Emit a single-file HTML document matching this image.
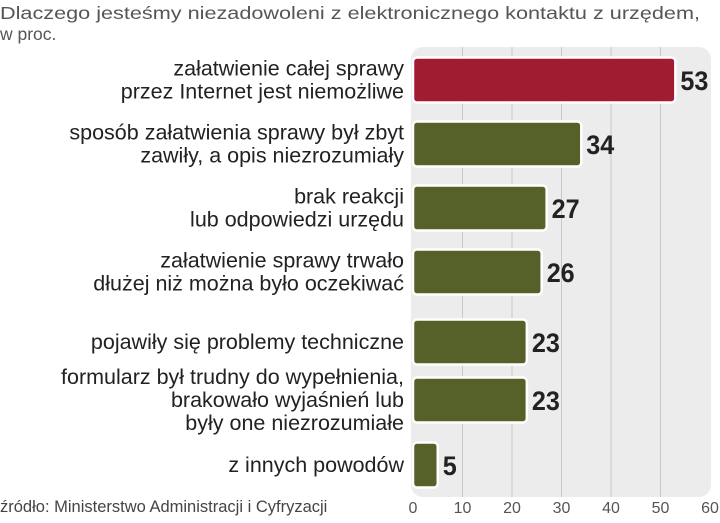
<!DOCTYPE html>
<html><head><meta charset="utf-8"><style>
body{margin:0;width:720px;height:518px;background:#fff;overflow:hidden;font-family:"Liberation Sans",sans-serif}
svg text{font-family:"Liberation Sans",sans-serif}
</style></head><body>
<svg width="720" height="518">
<g id="g"></g>
</svg>
<script>
const categories=[
["załatwienie całej sprawy","przez Internet jest niemożliwe"],
["sposób załatwienia sprawy był zbyt","zawiły, a opis niezrozumiały"],
["brak reakcji","lub odpowiedzi urzędu"],
["załatwienie sprawy trwało","dłużej niż można było oczekiwać"],
["pojawiły się problemy techniczne"],
["formularz  był trudny do wypełnienia,","brakowało wyjaśnień lub","były one niezrozumiałe"],
["z innych powodów"]];
const values=[53,34,27,26,23,23,5];
const tickLabels=[0,10,20,30,40,50,60];
const NS="http://www.w3.org/2000/svg";
const g=document.getElementById('g');
const x0=413,ux=4.95;
const X=v=>x0+v*ux;
const rowCenters=[80,144,208,272,342,400,465];
function mk(t,a,txt){const e=document.createElementNS(NS,t);for(const k in a)e.setAttribute(k,a[k]);if(txt!=null)e.textContent=txt;g.appendChild(e);return e;}
let e;
e=mk('text',{x:0,y:19,'font-size':17.5,fill:'#555','textLength':700,lengthAdjust:'spacingAndGlyphs'},'Dlaczego jesteśmy niezadowoleni z elektronicznego kontaktu z urzędem,');


e=mk('text',{x:0,y:40,'font-size':17.5,fill:'#555'},'w proc.');


e=mk('rect',{x:411,y:47,width:300,height:450,rx:12,fill:'#ececec'});


tickLabels.forEach(t=>{
 if(t>0&&t<60){e=mk('line',{x1:X(t),x2:X(t),y1:47,y2:497,stroke:'#c8c8c8','stroke-width':1});
 
 }
 e=mk('text',{x:X(t),y:513,'font-size':16,fill:'#555','text-anchor':'middle'},t);
 
 
});
values.forEach((v,i)=>{
 const cy=rowCenters[i];
 e=mk('rect',{x:X(0),y:cy-22.5,width:v*ux,height:45,rx:4,fill:i==0?'#a01c30':'#566029',stroke:'#fff','stroke-width':2.5});
 
 
 e=mk('text',{x:X(v)+5,y:cy+10,'font-size':27,'font-weight':'bold',fill:'#222',textLength:String(v).length*14,lengthAdjust:'spacingAndGlyphs'},v);
 
 
 const lines=categories[i];const n=lines.length;
 lines.forEach((l,j)=>{
  e=mk('text',{x:404,y:cy+7+(j-(n-1)/2)*23,'font-size':21.5,fill:'#222','text-anchor':'end'},l);
  
  
 });
});
e=mk('text',{x:0,y:512,'font-size':16.5,fill:'#444'},'źródło: Ministerstwo Administracji i Cyfryzacji');


</script>
</body></html>
